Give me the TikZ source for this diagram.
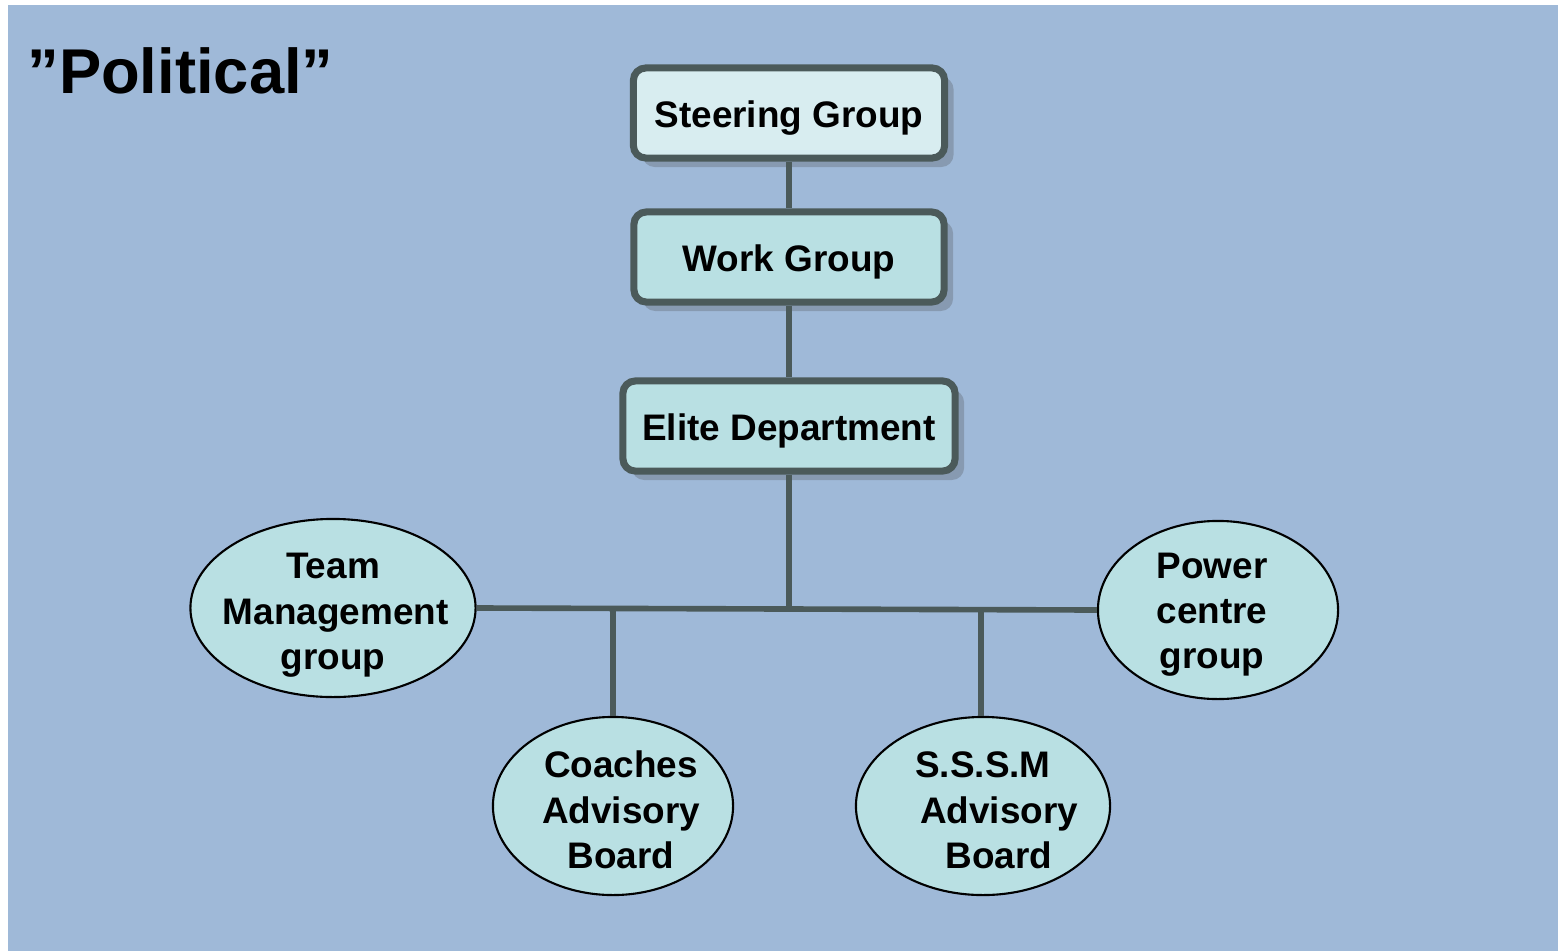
\documentclass[tikz,border=0pt]{standalone}
\usepackage{fontspec}
\setmainfont{Liberation Sans}
\usepackage{tikz}
\usetikzlibrary{positioning}
\usetikzlibrary{shadows}
\usetikzlibrary{shapes.geometric}

\definecolor{bgblue}{HTML}{9FB9D8}
\definecolor{paleteal}{HTML}{D8EDF0}
\definecolor{lightteal}{HTML}{B9E0E3}
\definecolor{slate}{HTML}{4B5A5A}

\newcommand{\lift}{\rule{0pt}{0.35cm}}

\tikzset{
	groupbox/.style={rectangle, rounded corners=3.5pt, draw=slate, line width=2pt,
		fill=lightteal, minimum height=0.9cm, inner sep=0pt,
		text height=0.36cm, text depth=0.08cm,
		font=\fontsize{10.5}{13}\selectfont\bfseries,
		drop shadow={shadow xshift=0.09cm, shadow yshift=-0.09cm, fill=black!70, opacity=0.28}},
	board/.style={ellipse, draw=black, line width=0.6pt, fill=lightteal, inner sep=-0.4cm,
		minimum height=1.78cm, align=center, text width=2.2cm,
		font=\fontsize{10.5}{12.9}\selectfont\bfseries},
	link/.style={draw=slate, line width=1.6pt}
}

\begin{document}
\begin{tikzpicture}[x=0.01cm, y=-0.01cm]
				\useasboundingbox (0,0) rectangle (1560,951);
				\fill[bgblue] (8,5) rectangle (1558,951);
				
				\node[anchor=base west, font=\fontsize{18}{20}\selectfont\bfseries] (title) at (15,93) {”Political”};
				
				\node[groupbox, fill=paleteal, minimum width=3.11cm] (SG) at (789,113) {Steering Group};
				\node[groupbox, minimum width=3.1cm] (WG) at (789,257) {Work Group};
				\node[groupbox, minimum width=3.32cm] (ED) at (789,426) {Elite Department};
				
				\node[board, minimum width=2.85cm] (TM) at (333,608) {\rule{0pt}{0.4cm}Team\\Management\\group};
				\node[board, minimum width=2.4cm] (PC) at (1218,610) {\lift\hspace*{-0.12cm}Power\\\hspace*{-0.12cm}centre\\\hspace*{-0.12cm}group};
				\node[board, minimum width=2.4cm] (CAB) at (613,806) {\lift\hspace*{0.16cm}Coaches\\\hspace*{0.16cm}Advisory\\\hspace*{0.16cm}Board};
				\node[board, minimum width=2.54cm] (SAB) at (983,806) {\lift S.S.S.M\\\hspace*{0.32cm}Advisory\\\hspace*{0.32cm}Board};
				
				\coordinate (J) at (789,609);
				\coordinate (JC) at (613,609);
				\coordinate (JS) at (981,609);
				
				\draw[link] (SG) -- (WG);
				\draw[link] (WG) -- (ED);
				\draw[link] (ED) -- (J);
				\draw[link] (TM.east) -- (PC.west);
				\draw[link] (JC) -- (CAB.north);
				\draw[link] (JS) -- (SAB.north -| JS);
			\end{tikzpicture}
\end{document}
